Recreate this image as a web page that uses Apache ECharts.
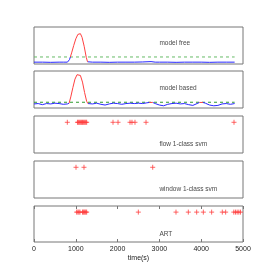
<!DOCTYPE html>
<html><head><meta charset="utf-8">
<script src="https://cdn.jsdelivr.net/npm/echarts@6/dist/echarts.min.js"></script>
<style>html,body{margin:0;padding:0;background:#fff}#c{width:270px;height:270px}</style>
</head><body><div id="c"></div>
<script>
const xTicks = ['0','1000','2000','3000','4000','5000'];
const panelNames = ['model free','model based','flow 1-class svm','window 1-class svm','ART'];

// blue = below-threshold trace, red = flagged part (null breaks between segments)
const freeBlue = [[0,.05],[200,.05],[400,.045],[600,.05],[700,.05],[800,.05],[850,.12],[870,.19],null,[1280,.06],[1400,.05],[1600,.05],[1800,.045],[2000,.05],[2200,.05],[2400,.05],[2600,.055],[2800,.065],[2900,.05],[3000,.05],[3200,.05],[3400,.045],[3600,.05],[3800,.05],[4000,.05],[4200,.045],[4400,.05],[4600,.05],[4800,.05]];
const freeRed = [[870,.19],[900,.3],[950,.5],[1000,.68],[1050,.8],[1080,.84],[1110,.82],[1150,.72],[1200,.48],[1250,.18],[1280,.06]];
const freeThreshold = 0.19;

const basedBlue = [[0,.11],[100,.12],[200,.09],[300,.12],[400,.11],[500,.13],[600,.12],[700,.10],[800,.11],[840,.13],null,[1290,.12],[1400,.11],[1500,.13],[1600,.10],[1700,.08],[1800,.11],[1900,.13],[2000,.12],[2100,.10],[2200,.12],[2300,.13],[2400,.12],[2500,.13],[2600,.12],[2700,.14],[2760,.15],null,[2840,.15],[2900,.12],[3000,.08],[3100,.06],[3200,.10],[3300,.12],[3400,.13],[3500,.11],[3600,.12],[3700,.09],[3800,.07],[3900,.12],[3960,.15],null,[4040,.15],[4100,.13],[4200,.08],[4300,.06],[4400,.07],[4500,.11],[4600,.12],[4700,.10],[4800,.12]];
const basedRed = [[840,.13],[880,.3],[930,.55],[980,.78],[1030,.9],[1075,.92],[1110,.88],[1160,.7],[1210,.42],[1260,.18],[1290,.12],null,[2760,.15],[2800,.16],[2840,.15],null,[3960,.15],[4000,.16],[4040,.15]];
const basedThreshold = 0.155;

const flowHits = [797,1040,1060,1080,1100,1120,1140,1160,1180,1200,1220,1240,1260,1890,2010,2297,2344,2416,2680,4785];
const windowHits = [1005,1196,2840];
const artHits = [1020,1050,1075,1100,1160,1180,1200,1220,1240,1260,2496,3397,3692,3892,4051,4250,4505,4585,4780,4820,4860,4900,4940];
const hitLevel = 0.83;
const labelY = [0.57,0.54,0.24,0.24,0.22];
const labelX = 3000;

const tops = [27,71,116,161,206];
const heights = [37,37,37,37,36];
const grid = tops.map((t,i)=>({left:34,right:27,top:t,height:heights[i],show:true,borderColor:'#777',borderWidth:1,backgroundColor:'#fff'}));
const xAxis = tops.map((t,i)=>({
  gridIndex:i,type:'value',min:0,max:5000,interval:1000,
  axisLine:{show:false},splitLine:{show:false},
  axisTick:{show:i===4,inside:true,length:3,lineStyle:{color:'#777'}},
  axisLabel:{show:i===4,fontSize:7,color:'#222',fontFamily:'Liberation Sans',margin:4,
    formatter:(v)=>xTicks[Math.round(v/1000)]},
  name:i===4?'time(s)':'',nameLocation:'middle',nameGap:13,
  nameTextStyle:{fontSize:7,color:'#222',fontFamily:'Liberation Sans'}
}));
xAxis.push({gridIndex:4,type:'value',position:'top',min:0,max:5000,interval:1000,
  axisLine:{show:false},splitLine:{show:false},axisLabel:{show:false},
  axisTick:{show:true,inside:true,length:3,lineStyle:{color:'#777'}}});
const yAxis = tops.map((t,i)=>({gridIndex:i,type:'value',min:0,max:1,show:false}));

const blue='#2828ff', red='#ff4040';
const plus='path://M0,5L10,5M5,0L5,10';
const series=[];
function line(idx,data,color,dash,w){series.push({type:'line',xAxisIndex:idx,yAxisIndex:idx,data:data,showSymbol:false,symbol:'none',connectNulls:false,animation:false,lineStyle:{color:color,width:w||1,type:dash||'solid'},z:dash?1:2});}
line(0,[[0,freeThreshold],[4800,freeThreshold]],'#66bb66',[3,3]);
line(0,freeBlue,blue);
line(0,freeRed,red);
line(1,[[0,basedThreshold],[4800,basedThreshold]],'#2f9a2f',[3,3]);
line(1,basedBlue,blue);
line(1,basedRed,red);
[flowHits,windowHits,artHits].forEach((h,k)=>{
  series.push({type:'scatter',xAxisIndex:k+2,yAxisIndex:k+2,symbol:plus,symbolSize:5,animation:false,
    itemStyle:{color:'none',borderColor:red,borderWidth:1},data:h.map(v=>[v,hitLevel])});
});
panelNames.forEach((n,i)=>{
  series.push({type:'scatter',xAxisIndex:i,yAxisIndex:i,symbolSize:0,animation:false,silent:true,
    data:[[labelX,labelY[i]]],
    label:{show:true,position:'right',distance:0,formatter:n,fontSize:6.5,color:'#111',fontFamily:'Liberation Sans'}});
});
const chart=echarts.init(document.getElementById('c'),null,{renderer:'canvas'});
chart.setOption({animation:false,grid,xAxis,yAxis,series});
</script></body></html>
